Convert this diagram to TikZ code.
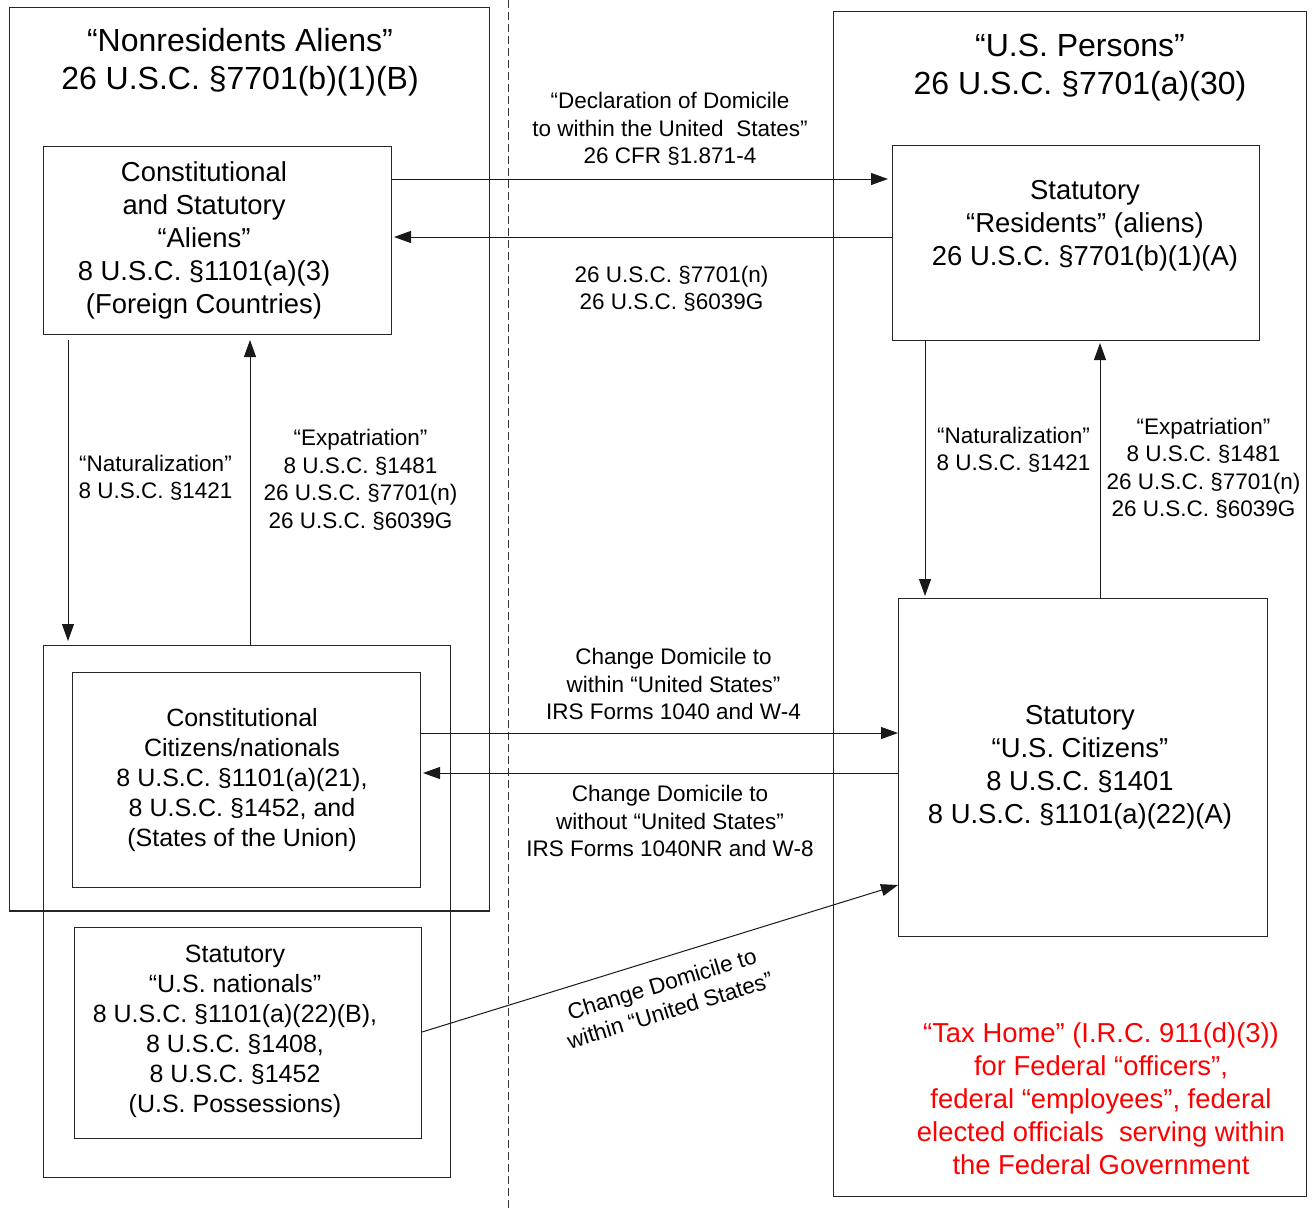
\documentclass[tikz,border=0pt]{standalone}
\usepackage{fontspec}
\setmainfont{Liberation Sans}
\usetikzlibrary{arrows.meta}
\begin{document}
\begin{tikzpicture}[x=1pt,y=-1pt,
  frame/.style={draw=black!85, line width=1pt, inner sep=0pt, anchor=north west},
  arr/.style={draw=black!90, line width=1pt, -{Triangle[length=17pt,width=12pt]}},
  head/.style={align=center, font=\fontsize{32}{38}\selectfont},
  btext/.style={align=center, font=\fontsize{27.4}{33}\selectfont},
  stext/.style={align=center, font=\fontsize{25}{30}\selectfont},
  lbl/.style={align=center, font=\fontsize{22.5}{27.5}\selectfont},
  redtext/.style={align=center, text=red, font=\fontsize{27.4}{33}\selectfont}]
\useasboundingbox (0,0) rectangle (1312,1210);
\fill[white] (0,0) rectangle (1312,1210);

% dashed divider
\coordinate (dtop) at (508,0);
\coordinate (dbot) at (508,1210);
\draw[black!80, line width=1pt, dash pattern=on 8pt off 4pt] (dtop) -- (dbot);

% outer frames
\node[frame, minimum width=480pt, minimum height=903pt] (nra) at (9,7) {};
\node[frame, minimum width=473pt, minimum height=1185pt] (usp) at (833,11) {};
\node[frame, minimum width=407pt, minimum height=532pt] (cont) at (43,645) {};

% boxes
\node[frame, fill=white, minimum width=348pt, minimum height=188pt] (al) at (43,146) {};
\node[frame, fill=white, minimum width=367pt, minimum height=195pt] (res) at (892,145) {};
\node[frame, fill=white, minimum width=369pt, minimum height=338pt] (usc) at (898,598) {};
\node[frame, fill=white, minimum width=348pt, minimum height=215pt] (cc) at (72,672) {};
\node[frame, fill=white, minimum width=347pt, minimum height=211pt] (usn) at (74,927) {};
% redraw left outer frame's bottom edge over cc
\draw[black!85, line width=1pt] (nra.south west) -- (nra.south east);

% headings
\node[head] (hl) at (240,62) {“Nonresidents Aliens”\\26 U.S.C. §7701(b)(1)(B)};
\node[head] (hr) at (1080,68) {“U.S. Persons”\\26 U.S.C. §7701(a)(30)};

% box texts
\node[btext] (alt) at (204,240.5) {Constitutional\\and Statutory\\“Aliens”\\8 U.S.C. §1101(a)(3)\\(Foreign Countries)};
\node[btext] (rest) at (1085,226) {Statutory\\“Residents” (aliens)\\26 U.S.C. §7701(b)(1)(A)};
\node[btext] (usct) at (1080,767.5) {Statutory\\“U.S. Citizens”\\8 U.S.C. §1401\\8 U.S.C. §1101(a)(22)(A)};
\node[stext] (cct) at (242,780.5) {Constitutional\\Citizens/nationals\\8 U.S.C. §1101(a)(21),\\8 U.S.C. §1452, and\\(States of the Union)};
\node[stext] (usnt) at (235,1031.5) {Statutory\\“U.S. nationals”\\8 U.S.C. §1101(a)(22)(B),\\8 U.S.C. §1408,\\8 U.S.C. §1452\\(U.S. Possessions)};

% connectors
\draw[arr, shorten >=4pt] ([yshift=-33pt]al.north east) -- ([yshift=-34pt]res.north west);
\draw[arr, shorten >=2pt] ([yshift=-92pt]res.north west) -- ([yshift=-91pt]al.north east);
\draw[arr, shorten <=5pt, shorten >=4pt] ([xshift=25pt]al.south west) -- ([xshift=25pt]cont.north west);
\draw[arr, shorten >=5pt] ([xshift=207pt]cont.north west) -- ([xshift=207pt]al.south west);
\draw[arr, shorten >=2pt] ([xshift=33pt]res.south west) -- ([xshift=27pt]usc.north west);
\draw[arr, shorten >=2pt] ([xshift=202pt]usc.north west) -- ([xshift=208pt]res.south west);
\draw[arr] ([yshift=-61pt]cc.north east) -- ([yshift=-135pt]usc.north west);
\draw[arr, shorten >=2pt] ([yshift=-175pt]usc.north west) -- ([yshift=-101pt]cc.north east);
\draw[arr] ([yshift=-105pt]usn.north east) -- ([yshift=-287pt]usc.north west);

% connector labels
\node[lbl] (decl) at (670,129) {“Declaration of Domicile\\to within the United\ \ States”\\26 CFR §1.871-4};
\node[lbl] (midref) at (671.5,289) {26 U.S.C. §7701(n)\\26 U.S.C. §6039G};
\node[lbl] (natl) at (155.5,478) {“Naturalization”\\8 U.S.C. §1421};
\node[lbl] (expl) at (360.5,480) {“Expatriation”\\8 U.S.C. §1481\\26 U.S.C. §7701(n)\\26 U.S.C. §6039G};
\node[lbl] (natr) at (1013.5,450) {“Naturalization”\\8 U.S.C. §1421};
\node[lbl] (expr) at (1203.5,468.5) {“Expatriation”\\8 U.S.C. §1481\\26 U.S.C. §7701(n)\\26 U.S.C. §6039G};
\node[lbl] (chg1) at (673.5,684) {Change Domicile to\\within “United States”\\IRS Forms 1040 and W-4};
\node[lbl] (chg2) at (670,821) {Change Domicile to\\without “United States”\\IRS Forms 1040NR and W-8};
\node[lbl, rotate=17] (diag) at (666,997) {Change Domicile to\\within “United States”};

% red note
\node[redtext] (taxhome) at (1101,1099) {“Tax Home” (I.R.C. 911(d)(3))\\for Federal “officers”,\\federal “employees”, federal\\elected officials\ \ serving within\\the Federal Government};
\end{tikzpicture}
\end{document}
